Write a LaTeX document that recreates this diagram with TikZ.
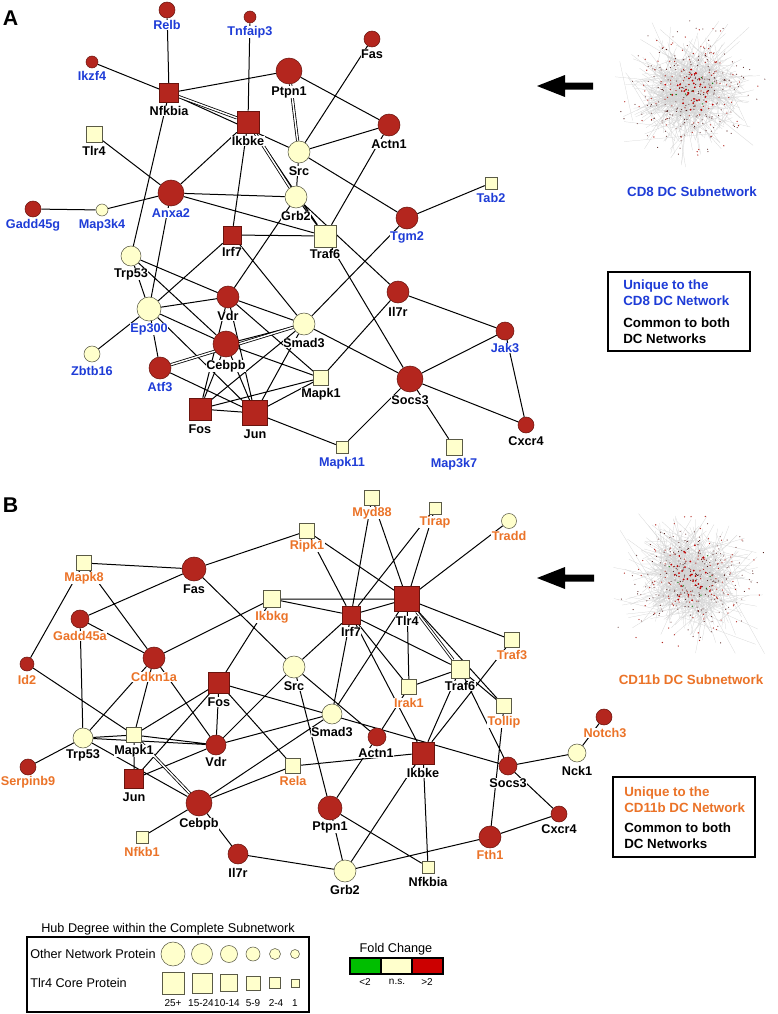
\documentclass[tikz,border=0pt]{standalone}
\usepackage{fontspec}
\setmainfont{Liberation Sans}
\usetikzlibrary{backgrounds}
\definecolor{nred}{RGB}{180,38,30}
\definecolor{nredd}{RGB}{105,20,14}
\definecolor{nyel}{RGB}{255,255,204}
\definecolor{nyeld}{RGB}{90,90,70}
\definecolor{lblue}{RGB}{30,60,215}
\definecolor{lorange}{RGB}{235,115,40}
\definecolor{fgreen}{RGB}{0,190,0}
\definecolor{fred}{RGB}{204,0,0}
\newcommand\lblfont{\bfseries\fontsize{9.5}{11}\selectfont}
\newcommand\hairball[2]{%
  \foreach \i in {1,...,430}{%
    \pgfmathsetmacro\px{#1+30*(rand+rand+rand)}%
    \pgfmathsetmacro\py{#2+28*(rand+rand+rand)}%
    \pgfmathsetmacro\qx{#1+22*(rand+rand+rand)}%
    \pgfmathsetmacro\qy{#2+20*(rand+rand+rand)}%
    \draw[black!17, line width=0.18pt] (\px,\py) -- (\qx,\qy);
  }
  \foreach \i in {1,...,330}{%
    \pgfmathsetmacro\px{#1+28*(rand+rand+rand)}%
    \pgfmathsetmacro\py{#2+26*(rand+rand+rand)}%
    \pgfmathtruncatemacro\cc{mod(\i,3)}%
    \ifnum\cc=0 \fill[nred] (\px,\py) circle (0.5pt);\else\fill[black!60!nred] (\px,\py) circle (0.4pt);\fi
  }
  \foreach \i in {1,...,40}{%
    \pgfmathsetmacro\px{#1+12*(rand+rand+rand)}%
    \pgfmathsetmacro\py{#2+12*(rand+rand+rand)}%
    \pgfmathtruncatemacro\cc{mod(\i,5)}%
    \ifnum\cc=0 \fill[fgreen!60!black] (\px,\py) circle (0.5pt);\else\fill[red!75!black] (\px,\py) circle (0.75pt);\fi
  }
}
\tikzset{
  rn/.style={circle, fill=nred, draw=nredd, line width=0.4pt, inner sep=0pt, minimum size=#1*0.75pt},
  yn/.style={circle, fill=nyel, draw=nyeld, line width=0.4pt, inner sep=0pt, minimum size=#1*0.75pt},
  rs/.style={rectangle, fill=nred, draw=nredd, line width=0.4pt, inner sep=0pt, minimum size=#1*0.75pt},
  ys/.style={rectangle, fill=nyel, draw=nyeld, line width=0.4pt, inner sep=0pt, minimum size=#1*0.75pt},
  lk/.style={font=\lblfont, text=black, fill=white, inner sep=0.4pt},
  lb/.style={lk, text=lblue},
  lo/.style={lk, text=lorange},
  ed/.style={line width=0.75pt, black},
  dd/.style={black, line width=0.6pt, double=white, double distance=1.1pt},
  boxtxt/.style={font=\bfseries\fontsize{10}{12}\selectfont, align=left, anchor=west, inner sep=0pt},
  legtxt/.style={font=\fontsize{9.5}{11}\selectfont, inner sep=0pt},
  numtxt/.style={font=\fontsize{7.5}{8}\selectfont, inner sep=0pt}
}
\begin{document}
\begin{tikzpicture}[x=0.75pt,y=-0.75pt]
\useasboundingbox (0,0) rectangle (778,1014);
% ---------------- Panel A nodes
\node[rn=16] (aRelb) at (167,10) {};
\node[rn=12] (aTnfaip3) at (250,17) {};
\node[rn=12] (aIkzf4) at (92,62) {};
\node[rs=19] (aNfkbia) at (169,93) {};
\node[rs=22] (aIkbke) at (248,122) {};
\node[ys=16] (aTlr4) at (94,134) {};
\node[rn=26] (aAnxa2) at (171,193) {};
\node[rn=16] (aGadd45g) at (33,209) {};
\node[yn=12] (aMap3k4) at (102,210) {};
\node[rn=16] (aFas) at (372,39) {};
\node[rn=26] (aPtpn1) at (289,71) {};
\node[rn=22] (aActn1) at (389,125) {};
\node[yn=22] (aSrc) at (299,152) {};
\node[yn=22] (aGrb2) at (296,197) {};
\node[ys=12] (aTab2) at (491,183) {};
\node[rn=22] (aTgm2) at (407,218) {};
\node[ys=22] (aTraf6) at (325,236) {};
\node[rs=18] (aIrf7) at (232,235) {};
\node[yn=20] (aTrp53) at (131,256) {};
\node[yn=24] (aEp300) at (149,309) {};
\node[rn=22] (aVdr) at (228,297) {};
\node[rn=26] (aCebpb) at (226,344) {};
\node[yn=16] (aZbtb16) at (92,354) {};
\node[rn=22] (aAtf3) at (160,368) {};
\node[rs=22] (aFos) at (200,409) {};
\node[rs=25] (aJun) at (255,413) {};
\node[rn=22] (aIl7r) at (398,292) {};
\node[yn=22] (aSmad3) at (304,324) {};
\node[rn=18] (aJak3) at (505,331) {};
\node[ys=15] (aMapk1) at (321,378) {};
\node[rn=26] (aSocs3) at (410,379) {};
\node[rn=16] (aCxcr4) at (526,425) {};
\node[ys=12] (aMapk11) at (342,447) {};
\node[ys=16] (aMap3k7) at (454,447) {};
% ---------------- Panel B nodes
\node[ys=15] (bMapk8) at (84,563) {};
\node[rn=24] (bFas) at (194,569) {};
\node[rn=18] (bGadd45a) at (80,619) {};
\node[rn=14] (bId2) at (27,664) {};
\node[rn=22] (bCdkn1a) at (154,658) {};
\node[ys=17] (bIkbkg) at (272,599) {};
\node[rs=21] (bFos) at (219,683) {};
\node[ys=15] (bMyd88) at (372,498) {};
\node[ys=12] (bTirap) at (435,508) {};
\node[yn=15] (bTradd) at (509,521) {};
\node[ys=15] (bRipk1) at (307,531) {};
\node[rs=25] (bTlr4) at (407,599) {};
\node[rs=18] (bIrf7) at (351,615) {};
\node[ys=15] (bTraf3) at (512,640) {};
\node[ys=18] (bTraf6) at (460,669) {};
\node[yn=22] (bSrc) at (294,667) {};
\node[ys=15] (bIrak1) at (409,687) {};
\node[ys=15] (bTollip) at (504,706) {};
\node[yn=20] (bSmad3) at (332,714) {};
\node[rn=18] (bActn1) at (377,737) {};
\node[ys=15] (bRela) at (293,766) {};
\node[rs=22] (bIkbke) at (423,753) {};
\node[rn=18] (bSocs3) at (508,766) {};
\node[rn=24] (bPtpn1) at (330,808) {};
\node[rn=22] (bFth1) at (490,837) {};
\node[yn=22] (bGrb2) at (345,871) {};
\node[ys=12] (bNfkbia) at (428,867) {};
\node[rn=16] (bCxcr4) at (559,814) {};
\node[yn=18] (bNck1) at (577,753) {};
\node[rn=16] (bNotch3) at (604,717) {};
\node[yn=20] (bTrp53) at (83,738) {};
\node[ys=15] (bMapk1) at (134,735) {};
\node[rn=16] (bSerpinb9) at (28,767) {};
\node[rn=20] (bVdr) at (216,745) {};
\node[rs=19] (bJun) at (134,779) {};
\node[rn=26] (bCebpb) at (199,803) {};
\node[ys=12] (bNfkb1) at (142,837) {};
\node[rn=20] (bIl7r) at (238,854) {};
% ---------------- background: hairballs and edges
\begin{pgfonlayer}{background}
\fill[white] (0,0) rectangle (778,1014);
\pgfmathsetseed{4711}
\hairball{690}{92}
\hairball{690}{578}
\draw[ed] (aRelb)--(aNfkbia) (aTnfaip3)--(aIkbke) (aIkzf4)--(aNfkbia)
  (aNfkbia)--(aPtpn1) (aNfkbia)--(aSrc) (aNfkbia)--(aTrp53)
  (aTlr4)--(aAnxa2) (aIkbke)--(aAnxa2) (aAnxa2)--(aMap3k4) (aMap3k4)--(aGadd45g)
  (aAnxa2)--(aEp300) (aAnxa2)--(aGrb2) (aAnxa2)--(aTraf6)
  (aIkbke)--(aIrf7) (aIkbke)--(aTraf6) (aPtpn1)--(aActn1) (aFas)--(aSrc)
  (aSrc)--(aActn1) (aSrc)--(aGrb2) (aSrc)--(aTgm2) (aActn1)--(aTraf6)
  (aTab2)--(aTgm2) (aGrb2)--(aTraf6) (aGrb2)--(aIl7r) (aTraf6)--(aSocs3)
  (aTgm2)--(aSmad3) (aIl7r)--(aMapk1) (aIl7r)--(aJak3) (aJak3)--(aSocs3)
  (aJak3)--(aCxcr4) (aSocs3)--(aCxcr4) (aSocs3)--(aSmad3) (aSocs3)--(aMapk11)
  (aSocs3)--(aMap3k7) (aJun)--(aMapk11) (aJun)--(aMapk1)
  (aIrf7)--(aEp300) (aIrf7)--(aTraf6) (aIrf7)--(aSmad3)
  (aTrp53)--(aVdr) (aTrp53)--(aCebpb) (aTrp53)--(aEp300)
  (aEp300)--(aVdr) (aEp300)--(aCebpb) (aEp300)--(aJun) (aEp300)--(aAtf3) (aEp300)--(aZbtb16)
  (aVdr)--(aFos) (aVdr)--(aJun) (aVdr)--(aSmad3) (aVdr)--(aMapk1) (aVdr)--(aGrb2)
  (aCebpb)--(aSmad3) (aAtf3)--(aJun) (aCebpb)--(aFos) (aCebpb)--(aJun)
  (aFos)--(aSmad3) (aFos)--(aJun) (aFos)--(aMapk1) (aJun)--(aSmad3) (aCebpb)--(aMapk1);
\draw[dd] (aNfkbia)--(aIkbke) (aIkbke)--(aGrb2) (aPtpn1)--(aSrc) (aAtf3)--(aSmad3);
\draw[ed] (bMapk8)--(bFas) (bFas)--(bRipk1) (bFas)--(bGadd45a) (bFas)--(bSrc)
  (bMapk8)--(bId2) (bMapk8)--(bCdkn1a) (bGadd45a)--(bCdkn1a) (bGadd45a)--(bTrp53)
  (bCdkn1a)--(bIkbkg) (bId2)--(bMapk1) (bCdkn1a)--(bTrp53) (bCdkn1a)--(bMapk1)
  (bCdkn1a)--(bVdr) (bIkbkg)--(bFos) (bIkbkg)--(bTlr4) (bIkbkg)--(bIrf7)
  (bTrp53)--(bSerpinb9) (bTrp53)--(bMapk1) (bTrp53)--(bVdr) (bTrp53)--(bCebpb)
  (bMapk1)--(bVdr) (bMapk1)--(bJun) (bMapk1)--(bFos) (bJun)--(bFos) (bJun)--(bVdr)
  (bFos)--(bVdr) (bFos)--(bRela) (bFos)--(bSocs3) (bVdr)--(bSrc) (bVdr)--(bSmad3)
  (bCebpb)--(bSmad3) (bCebpb)--(bRela) (bCebpb)--(bNfkb1) (bCebpb)--(bIl7r)
  (bIl7r)--(bGrb2) (bRela)--(bIkbke) (bSrc)--(bIrf7) (bSrc)--(bActn1) (bSrc)--(bPtpn1)
  (bIrf7)--(bSmad3) (bIrf7)--(bIrak1) (bIrf7)--(bIkbke) (bIrf7)--(bTraf6)
  (bIrf7)--(bRipk1) (bIrf7)--(bMyd88) (bIrf7)--(bTirap) (bTlr4)--(bIrf7)
  (bTlr4)--(bSmad3) (bTlr4)--(bIrak1) (bTlr4)--(bTollip) (bTlr4)--(bTraf3)
  (bTlr4)--(bTradd) (bTlr4)--(bMyd88) (bTlr4)--(bTirap) (bTlr4)--(bRipk1)
  (bIrak1)--(bActn1) (bIrak1)--(bTraf6) (bTraf6)--(bIkbke) (bTraf3)--(bIkbke)
  (bTraf6)--(bSocs3) (bTraf6)--(bTollip) (bTollip)--(bFth1)
  (bIkbke)--(bNfkbia) (bIkbke)--(bGrb2) (bPtpn1)--(bActn1) (bPtpn1)--(bNfkbia)
  (bPtpn1)--(bGrb2) (bGrb2)--(bFth1) (bFth1)--(bCxcr4) (bSocs3)--(bCxcr4)
  (bSocs3)--(bNck1) (bNck1)--(bNotch3);
\draw[dd] (bTlr4)--(bTraf6) (bMapk1)--(bCebpb);
\end{pgfonlayer}
% ---------------- Panel A labels
\node[lb] (aRelbL) at (167,25) {Relb};
\node[lb] (aTnfaip3L) at (250,32) {Tnfaip3};
\node[lb] (aIkzf4L) at (92,76) {Ikzf4};
\node[lk] (aNfkbiaL) at (169,111) {Nfkbia};
\node[lk] (aIkbkeL) at (248,141) {Ikbke};
\node[lk] (aTlr4L) at (94,151) {Tlr4};
\node[lb] (aAnxa2L) at (171,213) {Anxa2};
\node[lb] (aGadd45gL) at (33,225) {Gadd45g};
\node[lb] (aMap3k4L) at (102,225) {Map3k4};
\node[lk] (aFasL) at (372,54) {Fas};
\node[lk] (aPtpn1L) at (289,92) {Ptpn1};
\node[lk] (aActn1L) at (389,144) {Actn1};
\node[lk] (aSrcL) at (299,171) {Src};
\node[lk] (aGrb2L) at (296,216) {Grb2};
\node[lb] (aTab2L) at (491,198) {Tab2};
\node[lb] (aTgm2L) at (407,237) {Tgm2};
\node[lk] (aTraf6L) at (325,254) {Traf6};
\node[lk] (aIrf7L) at (232,252) {Irf7};
\node[lk] (aTrp53L) at (131,274) {Trp53};
\node[lb] (aEp300L) at (149,329) {Ep300};
\node[lk] (aVdrL) at (228,316) {Vdr};
\node[lk] (aCebpbL) at (226,366) {Cebpb};
\node[lb] (aZbtb16L) at (92,371) {Zbtb16};
\node[lb] (aAtf3L) at (160,387) {Atf3};
\node[lk] (aFosL) at (200,429) {Fos};
\node[lk] (aJunL) at (255,434) {Jun};
\node[lk] (aIl7rL) at (398,312) {Il7r};
\node[lk] (aSmad3L) at (304,343) {Smad3};
\node[lb] (aJak3L) at (505,348) {Jak3};
\node[lk] (aMapk1L) at (321,394) {Mapk1};
\node[lk] (aSocs3L) at (410,400) {Socs3};
\node[lk] (aCxcr4L) at (526,441) {Cxcr4};
\node[lb] (aMapk11L) at (342,463) {Mapk11};
\node[lb] (aMap3k7L) at (454,464) {Map3k7};
% ---------------- Panel B labels
\node[lo] (bMapk8L) at (84,578) {Mapk8};
\node[lk] (bFasL) at (194,589) {Fas};
\node[lo] (bGadd45aL) at (80,636) {Gadd45a};
\node[lo] (bId2L) at (27,680) {Id2};
\node[lo] (bCdkn1aL) at (154,677) {Cdkn1a};
\node[lo] (bIkbkgL) at (272,617) {Ikbkg};
\node[lk] (bFosL) at (219,702) {Fos};
\node[lo] (bMyd88L) at (372,513) {Myd88};
\node[lo] (bTirapL) at (435,522) {Tirap};
\node[lo] (bTraddL) at (509,536) {Tradd};
\node[lo] (bRipk1L) at (307,546) {Ripk1};
\node[lk] (bTlr4L) at (407,621) {Tlr4};
\node[lk] (bIrf7L) at (351,632) {Irf7};
\node[lo] (bTraf3L) at (512,655) {Traf3};
\node[lk] (bTraf6L) at (460,686) {Traf6};
\node[lk] (bSrcL) at (294,686) {Src};
\node[lo] (bIrak1L) at (409,703) {Irak1};
\node[lo] (bTollipL) at (504,722) {Tollip};
\node[lk] (bSmad3L) at (332,732) {Smad3};
\node[lk] (bActn1L) at (376,753) {Actn1};
\node[lo] (bRelaL) at (293,781) {Rela};
\node[lk] (bIkbkeL) at (423,773) {Ikbke};
\node[lk] (bSocs3L) at (508,783) {Socs3};
\node[lk] (bPtpn1L) at (330,827) {Ptpn1};
\node[lo] (bFth1L) at (490,855) {Fth1};
\node[lk] (bGrb2L) at (345,890) {Grb2};
\node[lk] (bNfkbiaL) at (428,882) {Nfkbia};
\node[lk] (bCxcr4L) at (559,829) {Cxcr4};
\node[lk] (bNck1L) at (577,771) {Nck1};
\node[lo] (bNotch3L) at (605,733) {Notch3};
\node[lk] (bTrp53L) at (83,755) {Trp53};
\node[lk] (bMapk1L) at (134,751) {Mapk1};
\node[lo] (bSerpinb9L) at (28,782) {Serpinb9};
\node[lk] (bVdrL) at (216,762) {Vdr};
\node[lk] (bJunL) at (134,797) {Jun};
\node[lk] (bCebpbL) at (199,824) {Cebpb};
\node[lo] (bNfkb1L) at (142,852) {Nfkb1};
\node[lk] (bIl7rL) at (238,873) {Il7r};
% ---------------- Panel letters
\node[font=\bfseries\fontsize{16}{18}\selectfont, inner sep=0pt] (panA) at (10.5,18) {A};
\node[font=\bfseries\fontsize{16}{18}\selectfont, inner sep=0pt] (panB) at (10.5,505) {B};
% ---------------- Arrows
\fill[black] (537,86) -- (565,75) -- (565,82.5) -- (593,82.5) -- (593,89.5) -- (565,89.5) -- (565,97) -- cycle;
\fill[black] (537,578) -- (565,567) -- (565,574.5) -- (594,574.5) -- (594,581.5) -- (565,581.5) -- (565,589) -- cycle;
% ---------------- Subnetwork titles
\node[font=\bfseries\fontsize{10}{12}\selectfont, text=lblue, inner sep=0pt] (subA) at (692,192) {CD8 DC Subnetwork};
\node[font=\bfseries\fontsize{10}{12}\selectfont, text=lorange, inner sep=0pt] (subB) at (691,680) {CD11b DC Subnetwork};
% ---------------- Key boxes
\draw[line width=0.8pt] (608,272) rectangle (750,351);
\node[boxtxt, text=lblue] (boxA1) at (623,293) {Unique to the\\CD8 DC Network};
\node[boxtxt] (boxA2) at (623,331) {Common to both\\DC Networks};
\draw[line width=0.8pt] (613,777) rectangle (755,857);
\node[boxtxt, text=lorange] (boxB1) at (624,800) {Unique to the\\CD11b DC Network};
\node[boxtxt] (boxB2) at (624,836) {Common to both\\DC Networks};
% ---------------- Legend
\node[legtxt] (legT) at (168,929) {Hub Degree within the Complete Subnetwork};
\draw[line width=0.9pt] (27,937) rectangle (309,1012);
\node[legtxt, anchor=west] (legO) at (30,954) {Other Network Protein};
\node[legtxt, anchor=west] (legC) at (30,983) {Tlr4 Core Protein};
\node[yn=24] (lc1) at (173,954) {};
\node[yn=21] (lc2) at (202,954) {};
\node[yn=17] (lc3) at (229,954) {};
\node[yn=14] (lc4) at (253,954) {};
\node[yn=11] (lc5) at (275,954) {};
\node[yn=9] (lc6) at (295,954) {};
\node[ys=22] (ls1) at (173,983) {};
\node[ys=20] (ls2) at (202,983) {};
\node[ys=17] (ls3) at (229,983) {};
\node[ys=14] (ls4) at (253,983) {};
\node[ys=11] (ls5) at (275,983) {};
\node[ys=8] (ls6) at (295,983) {};
\node[numtxt] (ln1) at (173,1003) {25+};
\node[numtxt] (ln2) at (201,1003) {15-24};
\node[numtxt] (ln3) at (227,1003) {10-14};
\node[numtxt] (ln4) at (253,1003) {5-9};
\node[numtxt] (ln5) at (276,1003) {2-4};
\node[numtxt] (ln6) at (295,1003) {1};
\node[legtxt] (fcT) at (396,949) {Fold Change};
\draw[line width=0.8pt, fill=fgreen] (350,958) rectangle (381,974);
\draw[line width=0.8pt, fill=nyel] (381,958) rectangle (412,974);
\draw[line width=0.8pt, fill=fred] (412,958) rectangle (443,974);
\node[numtxt] (fc1) at (365,982) {<2};
\node[numtxt] (fc2) at (397,982) {n.s.};
\node[numtxt] (fc3) at (427,982) {>2};
\end{tikzpicture}
\end{document}
